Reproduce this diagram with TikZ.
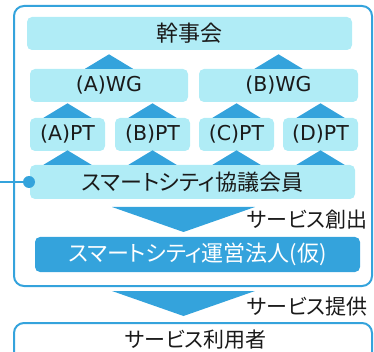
\documentclass[tikz,border=0pt]{standalone}
\usepackage{fontspec}
\setmainfont[RawFeature=+palt]{Noto Sans CJK JP}
\newfontfamily\latin{DejaVu Sans}
\usetikzlibrary{calc}
\definecolor{lightc}{RGB}{176,236,246}
\definecolor{darkb}{RGB}{52,163,220}
\definecolor{txt}{RGB}{26,26,26}
\tikzset{
  box/.style={fill=lightc, rounded corners=5pt, inner sep=0pt, text=txt, font=\fontsize{22}{24}\selectfont},
  latbox/.style={box, font=\latin\fontsize{20.5}{22}\selectfont},
  darkbox/.style={fill=darkb, rounded corners=5pt, inner sep=0pt, text=white, font=\fontsize{22}{24}\selectfont},
  frame/.style={draw=darkb, line width=2pt, rounded corners=10pt},
  tri/.style={fill=darkb},
  lbl/.style={text=txt, inner sep=0pt, font=\fontsize{21}{24}\selectfont},
}
\newcommand{\uptri}[2]{%
  \coordinate (tb) at (#1 |- #2.north);
  \fill[tri] ([xshift=-24pt]tb) -- ([yshift=14.5pt]tb) -- ([xshift=24pt]tb) -- cycle;}
\begin{document}
\begin{tikzpicture}[x=1pt,y=-1pt]
\useasboundingbox (0,0) rectangle (374,352);
\clip (0,0) rectangle (374,352);
% outer frame
\draw[frame] (14,6) rectangle (372,286);
% bottom box
\draw[frame] (14,323) rectangle (372,380);
% boxes
\node[box, minimum width=325pt, minimum height=33pt] (kanji) at (189.5,33.5) {幹事会};
\node[latbox, minimum width=158pt, minimum height=33pt] (wga) at (109,85.5) {(A)WG};
\node[latbox, minimum width=159pt, minimum height=33pt] (wgb) at (278.5,85.5) {(B)WG};
\node[latbox, minimum width=75pt, minimum height=33pt] (pta) at (67.5,134.5) {(A)PT};
\node[latbox, minimum width=75pt, minimum height=33pt] (ptb) at (152.5,134.5) {(B)PT};
\node[latbox, minimum width=75pt, minimum height=33pt] (ptc) at (236.5,134.5) {(C)PT};
\node[latbox, minimum width=75pt, minimum height=33pt] (ptd) at (320.5,134.5) {(D)PT};
\node[box, minimum width=325pt, minimum height=34pt] (kyo) at (192.5,182) {スマートシティ協議会員};
\node[darkbox, minimum width=325pt, minimum height=35pt] (unei) at (197.5,254.5) {スマートシティ運営法人(仮)};
\node[lbl, anchor=center] (user) at (196,340) {サービス利用者};
% triangles
\uptri{wga}{wga}
\uptri{wgb}{wgb}
\uptri{pta}{pta}
\uptri{ptb}{ptb}
\uptri{ptc}{ptc}
\uptri{ptd}{ptd}
\uptri{pta}{kyo}
\uptri{ptb}{kyo}
\uptri{ptc}{kyo}
\uptri{ptd}{kyo}
% big arrows
\fill[tri] (112,207) -- (255,207) -- (183.5,232) -- cycle;
\fill[tri] (112,291) -- (255,291) -- (183.5,316) -- cycle;
\node[lbl, anchor=east] (create) at (368,220) {サービス創出};
\node[lbl, anchor=east] (provide) at (368,307) {サービス提供};
% dot and line
\node[circle, fill=darkb, minimum size=12pt, inner sep=0pt] (dot) at (29,182) {};
\coordinate (lend) at (0,182);
\draw[darkb, line width=1.5pt] (lend) -- (dot);
\end{tikzpicture}
\end{document}
